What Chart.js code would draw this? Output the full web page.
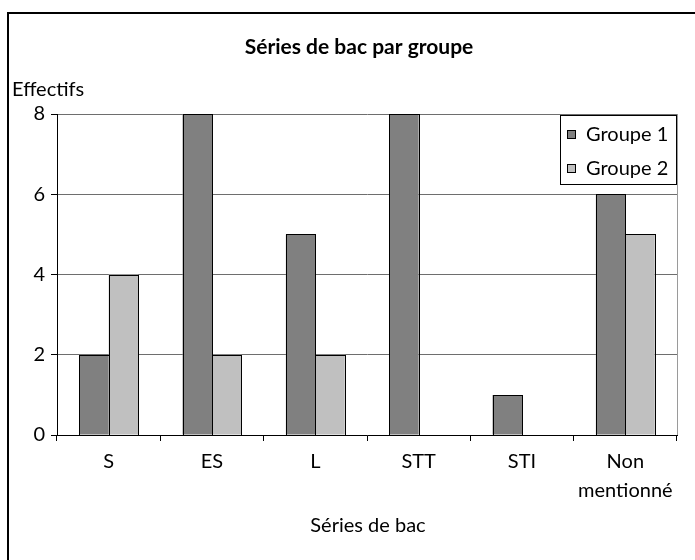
<!DOCTYPE html>
<html>
<head>
<meta charset="utf-8">
<script src="https://cdn.jsdelivr.net/npm/chart.js@4/dist/chart.umd.min.js"></script>
<style>
  html, body { margin: 0; padding: 0; background: #fff; }
  #wrap { width: 695px; height: 560px; position: relative; }
</style>
</head>
<body>
<div id="wrap"><canvas id="c" width="695" height="560"></canvas></div>
<script>
const categories = ['S', 'ES', 'L', 'STT', 'STI', ['Non', 'mentionné']];
const groupe1 = [2, 8, 5, 8, 1, 6];
const groupe2 = [4, 2, 2, 0, 0, 5];
const seriesNames = ['Groupe 1', 'Groupe 2'];
const yTicks = [0, 2, 4, 6, 8];

const chartTitle = 'Séries de bac par groupe';
const yTitle = 'Effectifs';
const xTitle = 'Séries de bac';

const FONT = 'Lato, "Open Sans", sans-serif';

// Crisp 1px outlines around each bar element laid out by the library
const barOutlines = {
  id: 'barOutlines',
  afterDatasetsDraw(chart) {
    const ctx = chart.ctx;
    ctx.save();
    ctx.strokeStyle = '#000';
    ctx.lineWidth = 1;
    chart.data.datasets.forEach((ds, i) => {
      const meta = chart.getDatasetMeta(i);
      meta.data.forEach((bar, j) => {
        if (!ds.data[j]) return;
        const p = bar.getProps(['x', 'y', 'base', 'width'], true);
        const l = Math.round(p.x - p.width / 2) + 0.5;
        const r = Math.round(p.x + p.width / 2) + 0.5;
        const t = Math.round(p.y) + 0.5;
        const b = Math.round(p.base) + 0.5;
        ctx.strokeRect(l, t, r - l, b - t);
      });
    });
    ctx.restore();
  }
};

// Frame, titles, plot border and in-plot legend
const decorations = {
  id: 'decorations',
  beforeDraw(chart) {
    const ctx = chart.ctx;
    ctx.save();
    ctx.fillStyle = '#ffffff';
    ctx.fillRect(0, 0, chart.width, chart.height);
    ctx.restore();
  },
  afterDraw(chart) {
    const ctx = chart.ctx;
    const area = chart.chartArea;
    ctx.save();

    // outer frame
    ctx.strokeStyle = '#000';
    ctx.lineWidth = 2;
    ctx.strokeRect(8, 13, 720, 600);

    // right edge of plot area
    ctx.strokeStyle = '#9a9a9a';
    ctx.lineWidth = 1;
    ctx.beginPath();
    ctx.moveTo(Math.round(area.right) + 0.5, area.top);
    ctx.lineTo(Math.round(area.right) + 0.5, area.bottom);
    ctx.stroke();

    // main title
    ctx.fillStyle = '#000';
    ctx.textBaseline = 'middle';
    ctx.textAlign = 'center';
    ctx.font = 'bold 21px ' + FONT;
    ctx.fillText(chartTitle, 359, 47);

    // axis titles
    ctx.font = '20px ' + FONT;
    ctx.textAlign = 'left';
    ctx.fillText(yTitle, 12, 90);
    ctx.textAlign = 'center';
    ctx.fillText(xTitle, 368, 526);

    // legend box
    const lx = 560, ly = 115, lw = 116, lh = 69;
    ctx.fillStyle = '#fff';
    ctx.fillRect(lx, ly, lw, lh);
    ctx.strokeStyle = '#000';
    ctx.lineWidth = 1;
    ctx.strokeRect(lx + 0.5, ly + 0.5, lw, lh);
    chart.data.datasets.forEach((ds, i) => {
      const cy = 134 + i * 34;
      ctx.fillStyle = ds.backgroundColor;
      ctx.fillRect(567, cy - 4, 9, 9);
      ctx.strokeStyle = '#000';
      ctx.strokeRect(567.5, cy - 3.5, 8, 8);
      ctx.fillStyle = '#000';
      ctx.textAlign = 'left';
      ctx.font = '20px ' + FONT;
      ctx.fillText(ds.label, 586, cy + 1);
    });
    ctx.restore();
  }
};

new Chart(document.getElementById('c'), {
  type: 'bar',
  data: {
    labels: categories,
    datasets: [
      { label: seriesNames[0], data: groupe1, backgroundColor: '#808080', borderWidth: 0 },
      { label: seriesNames[1], data: groupe2, backgroundColor: '#c0c0c0', borderWidth: 0 }
    ]
  },
  options: {
    responsive: false,
    animation: false,
    devicePixelRatio: 1,
    layout: { padding: { top: 114, right: 18, left: 0, bottom: 0 } },
    datasets: { bar: { barPercentage: 1.0, categoryPercentage: 0.57 } },
    plugins: { legend: { display: false }, tooltip: { enabled: false }, title: { display: false } },
    scales: {
      x: {
        offset: true,
        grid: { offset: true, drawOnChartArea: false, drawTicks: true, tickLength: 6, tickColor: '#000' },
        border: { color: '#000', width: 1 },
        ticks: { color: '#000', font: { family: FONT, size: 20, lineHeight: 1.45 }, padding: 6, maxRotation: 0, autoSkip: false },
        afterFit(scale) { scale.height = 125; }
      },
      y: {
        min: 0,
        max: 8,
        afterBuildTicks(scale) { scale.ticks = yTicks.map(v => ({ value: v })); },
        grid: { color: '#6e6e6e', drawTicks: true, tickLength: 6, tickColor: '#000' },
        border: { color: '#000', width: 1 },
        ticks: { color: '#000', font: { family: FONT, size: 20 }, padding: 6 },
        afterFit(scale) { scale.width = 57; }
      }
    }
  },
  plugins: [barOutlines, decorations]
});
</script>
</body>
</html>
